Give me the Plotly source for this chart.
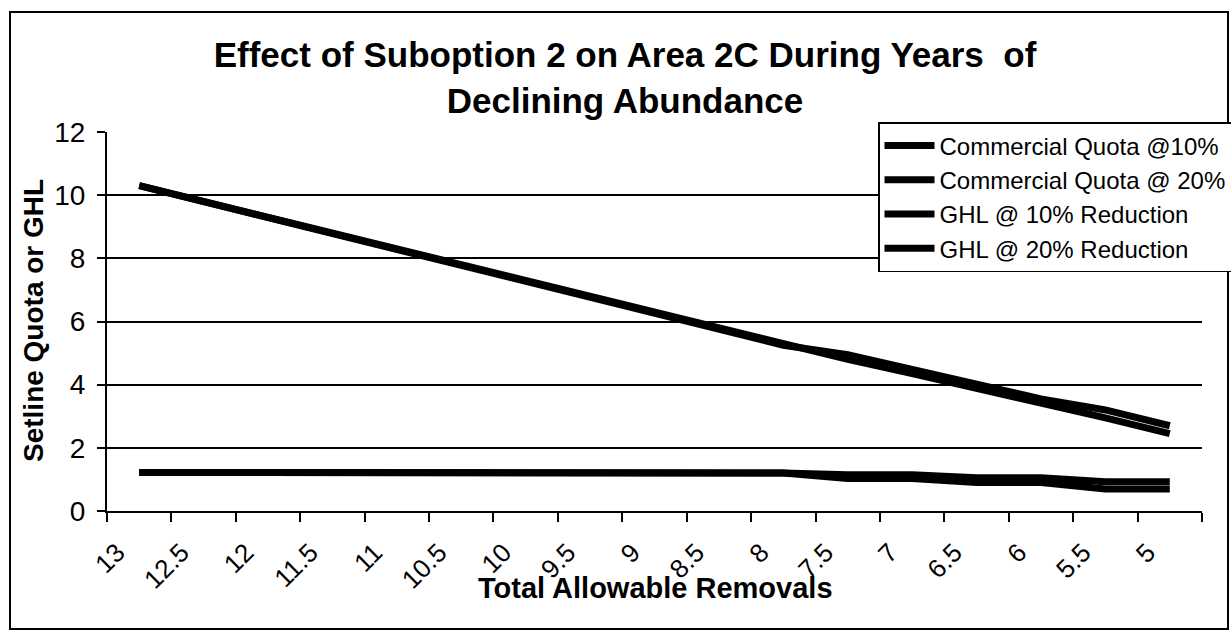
import plotly.graph_objects as go

# ---- data ----
categories = ["13", "12.5", "12", "11.5", "11", "10.5", "10", "9.5", "9",
              "8.5", "8", "7.5", "7", "6.5", "6", "5.5", "5"]

commercial_10 = [10.3, 9.8, 9.3, 8.8, 8.3, 7.8, 7.3, 6.8, 6.3, 5.8, 5.25,
                 4.8, 4.35, 3.9, 3.4, 2.95, 2.45]
commercial_20 = [10.3, 9.8, 9.3, 8.8, 8.3, 7.8, 7.3, 6.8, 6.3, 5.8, 5.25,
                 4.95, 4.5, 4.05, 3.55, 3.2, 2.7]
ghl_10 = [1.22, 1.22, 1.22, 1.22, 1.2, 1.2, 1.2, 1.2, 1.2, 1.2, 1.2,
          1.15, 1.15, 1.05, 1.05, 0.93, 0.93]
ghl_20 = [1.22, 1.22, 1.22, 1.22, 1.2, 1.2, 1.2, 1.2, 1.2, 1.2, 1.2,
          1.03, 1.03, 0.9, 0.9, 0.7, 0.7]

series_names = ["Commercial Quota @10%", "Commercial Quota @ 20%",
                "GHL @ 10% Reduction", "GHL @ 20% Reduction"]
series_values = [commercial_10, commercial_20, ghl_10, ghl_20]

y_ticks = [0, 2, 4, 6, 8, 10, 12]

FONT = "Liberation Sans, Arial, sans-serif"

W, H = 1231, 632
L, R, T, B = 107, 29, 132, 121
pw, ph = W - L - R, H - T - B

fig = go.Figure()
for i, (name, vals) in enumerate(zip(series_names, series_values)):
    fig.add_trace(go.Scatter(
        x=categories, y=vals, mode="lines", name=name,
        legendgroup=f"g{i}",
        line=dict(color="black", width=7),
    ))

def px_x(x):
    return (x - L) / pw

def px_y(y):
    return (H - B - y) / ph

fig.update_layout(
    width=W, height=H,
    margin=dict(l=L, r=R, t=T, b=B, autoexpand=False),
    paper_bgcolor="white", plot_bgcolor="white",
    font=dict(family=FONT, color="black"),
    title=dict(
        text="Effect of Suboption 2 on Area 2C During Years  of<br>Declining Abundance",
        x=625 / W, xanchor="center",
        y=1 - 67 / H, yanchor="top", yref="container",
        font=dict(size=35, family=FONT, color="black", weight="bold"),
    ),
    showlegend=True,
    legend=dict(
        x=px_x(878), y=px_y(122), xanchor="left", yanchor="top",
        bgcolor="white", bordercolor="black", borderwidth=1.5,
        font=dict(size=24, family=FONT, color="black"),
        traceorder="grouped", tracegroupgap=0,
        itemwidth=50,
    ),
    xaxis=dict(
        type="category", categoryorder="array", categoryarray=categories,
        range=[-0.5, len(categories) - 0.5],
        tickson="boundaries", ticks="outside", ticklen=9, tickwidth=2,
        tickcolor="black",
        showline=True, linecolor="black", linewidth=2,
        showgrid=False, tickangle=-45,
        ticklabelstandoff=14, ticklabelshift=-22,
        tickfont=dict(size=26, family=FONT, color="black"),
    ),
    yaxis=dict(
        range=[0, 12], tickvals=y_ticks,
        ticks="outside", ticklen=8, tickwidth=2, tickcolor="black",
        showline=True, linecolor="black", linewidth=2,
        showgrid=True, gridcolor="black", gridwidth=1.5,
        zeroline=False,
        ticklabelstandoff=6,
        tickfont=dict(size=28, family=FONT, color="black"),
    ),
    annotations=[
        dict(text="Total Allowable Removals", xref="paper", yref="paper",
             x=px_x(655), y=px_y(588), xanchor="center", yanchor="middle",
             showarrow=False,
             font=dict(size=29, family=FONT, color="black", weight="bold")),
        dict(text="Setline Quota or GHL", xref="paper", yref="paper",
             x=px_x(33), y=px_y(321), xanchor="center", yanchor="middle",
             textangle=-90, showarrow=False,
             font=dict(size=28, family=FONT, color="black", weight="bold")),
    ],
    shapes=[
        dict(type="rect", xref="paper", yref="paper",
             x0=px_x(10), x1=px_x(1228), y0=px_y(629), y1=px_y(12),
             line=dict(color="black", width=2), fillcolor="rgba(0,0,0,0)",
             layer="below"),
    ],
)

fig.write_html("out.html",
               config={"displayModeBar": False},
               post_script="document.body.style.margin='0';document.body.style.padding='0';")
